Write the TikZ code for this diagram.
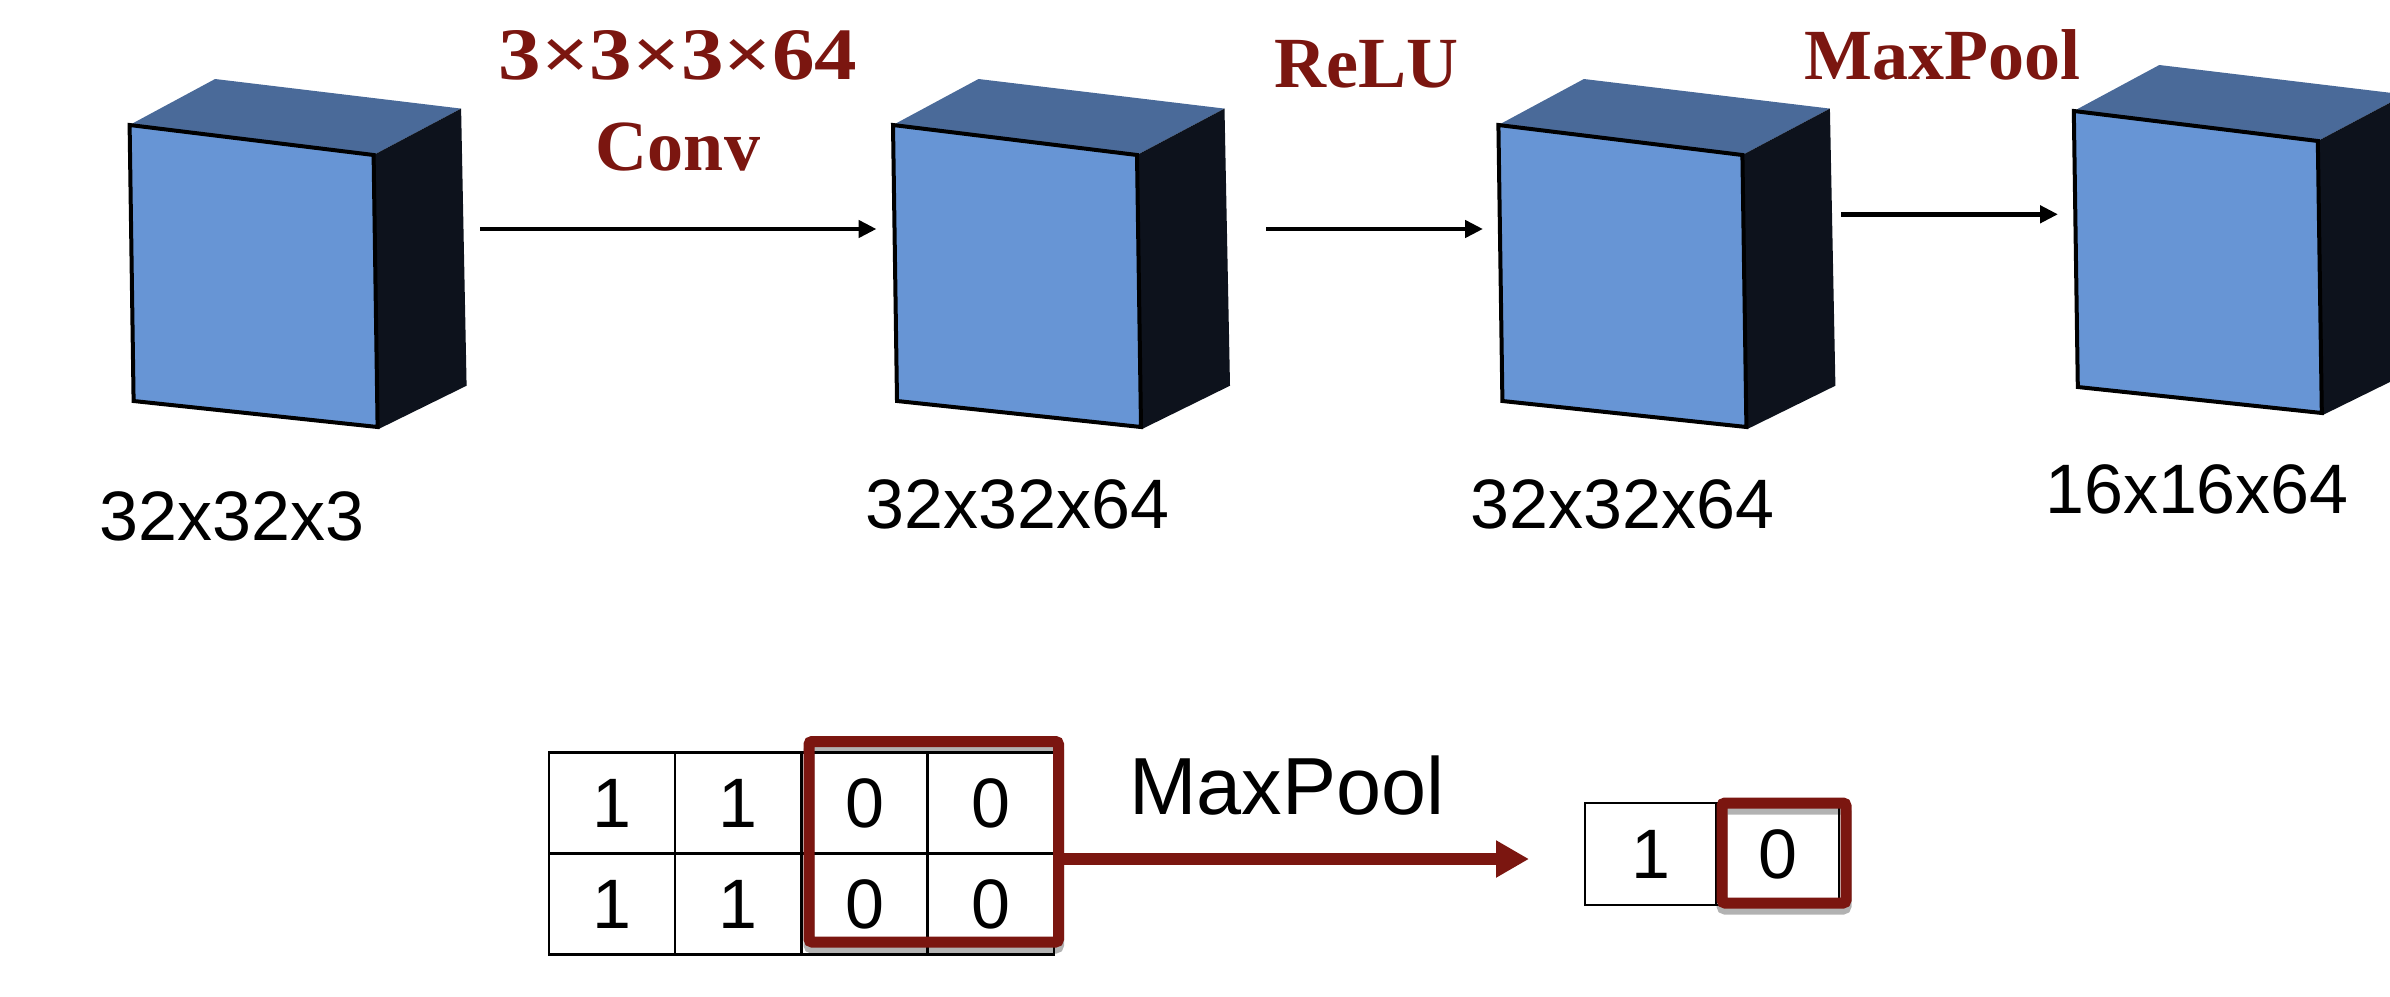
\documentclass[tikz,border=0pt]{standalone}
\usepackage{fontspec}
\setmainfont{Liberation Sans}
\newfontfamily\labelfont{Liberation Serif}
\usetikzlibrary{arrows.meta}
\definecolor{frontblue}{RGB}{103,149,213}
\definecolor{topblue}{RGB}{74,106,153}
\definecolor{sidedark}{RGB}{13,18,28}
\definecolor{darkred}{RGB}{123,22,16}

\begin{document}
\begin{tikzpicture}[x=1pt,y=-1pt,
  >={Triangle[length=18pt,width=17pt]},
  dim/.style={font=\fontsize{70}{84}\selectfont, anchor=base, inner sep=0pt},
  oplabel/.style={text=darkred, font=\labelfont\bfseries\fontsize{72}{86}\selectfont, anchor=base, inner sep=0pt},
  cell/.style={draw, line width=2.5pt, minimum width=126.2pt, minimum height=101pt, inner sep=0pt, font=\fontsize{70}{84}\selectfont},
  hilite/.style={draw=darkred, line width=11pt, rounded corners=3pt, inner sep=0pt},
  hilite shadow/.style={hilite, draw=black, opacity=0.3, yshift=-6pt}]
  \useasboundingbox (0,0) rectangle (2390,996);
  \clip (0,0) rectangle (2390,996);
  % feature maps
  \foreach \cx/\cy/\name in {129.6/125/a, 893/125/b, 1498.4/125/c, 2073.8/111/d} {
    \begin{scope}[shift={(\cx,\cy)}]
      \fill[topblue] (0,0) -- (85.5,-46) -- (331.5,-16.4) -- (244,30) -- cycle;
      \fill[sidedark] (244,30) -- (331.5,-16.4) -- (337,260.7) -- (249,304) -- cycle;
      \draw[fill=frontblue, line width=4pt] (0,0) -- (244,30) -- (248,302) -- (4,276) -- cycle;
      \coordinate (\name) at (0,0);
    \end{scope}
  }
  \node[dim] (a dim) at (232,540) {32x32x3};
  \node[dim] (b dim) at (1017.5,528) {32x32x64};
  \node[dim] (c dim) at (1622.5,528) {32x32x64};
  \node[dim] (d dim) at (2197,513) {16x16x64};
  % layers
  \coordinate (a out) at (480,229);
  \coordinate (b in) at (876.5,229);
  \coordinate (b out) at (1266,229);
  \coordinate (c in) at (1483,229);
  \coordinate (c out) at (1841,214.3);
  \coordinate (d in) at (2058,214.3);
  \draw[->, line width=4.6pt] (a out) -- (b in);
  \draw[->, line width=4.6pt] (b out) -- (c in);
  \draw[->, line width=4.6pt] (c out) -- (d in);
  \node[oplabel, font=\labelfont\bfseries\fontsize{74}{88}\selectfont, xscale=1.15, transform shape] (conv size) at (678,79.6) {3×3×3×64};
  \node[oplabel] (conv) at (678,170) {Conv};
  \node[oplabel] (relu) at (1366.5,87.3) {ReLU};
  \node[oplabel] (pool) at (1942,79.6) {MaxPool};
  % pooling example
  \foreach \r/\y in {1/803,2/904}
    \foreach \c/\x/\v in {1/612.1/1, 2/738.3/1, 3/864.5/0, 4/990.7/0}
      \node[cell] (t\r\c) at (\x,\y) {\v};
  \node[cell, minimum width=131pt, minimum height=102pt] (o1) at (1650.5,854) {1};
  \node[cell, minimum width=123pt, minimum height=102pt] (o2) at (1777.5,854) {0};
  \node[hilite shadow, minimum width=249.5pt, minimum height=200.5pt] (win shadow) at (933.75,841.75) {};
  \node[hilite, minimum width=249.5pt, minimum height=200.5pt] (win) at (933.75,841.75) {};
  \node[hilite shadow, minimum width=124pt, minimum height=100pt] (out shadow) at (1784,853) {};
  \node[hilite, minimum width=124pt, minimum height=100pt] (out) at (1784,853) {};
  \coordinate (pool tip) at (1529,859);
  \draw[darkred, line width=11.7pt, -{Triangle[length=33pt,width=35pt]}] (win.east |- pool tip) -- (pool tip);
  \node[font=\fontsize{81}{97}\selectfont, anchor=base, inner sep=0pt] (pool name) at (1287,814) {MaxPool};
\end{tikzpicture}
\end{document}
